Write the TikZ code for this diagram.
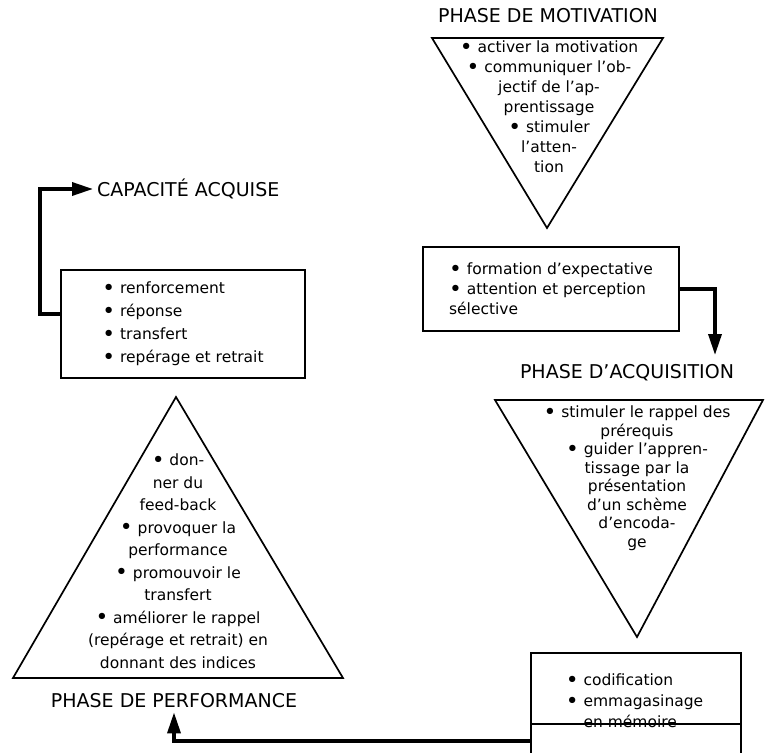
\documentclass[tikz,border=0pt]{standalone}
\usepackage{graphicx}
\usepackage{fontspec}
\setmainfont{DejaVu Sans}
\usetikzlibrary{arrows.meta}
\newcommand{\puce}{\raisebox{-0.12em}{\scalebox{1.4}{\textbullet}}~}

\begin{document}
\begin{tikzpicture}[x=1pt,y=-1pt,
    line width=1.7pt, line join=miter,
    phase/.style={font=\fontsize{19}{20}\selectfont},
    corps/.style={font=\fontsize{15.5}{20}\selectfont, align=center, inner sep=0pt},
    cadre/.style={draw, align=left, font=\fontsize{15.5}{20}\selectfont},
    fleche/.style={line width=3.4pt, -{Triangle[length=21pt,width=13pt]}}]
    \useasboundingbox (0,0) rectangle (765,752);

    \node[phase] (motT) at (548,16) {PHASE DE MOTIVATION};
    \draw (432,38) -- (663,38) -- (547,228) -- cycle;
    \node[corps] (motTxt) at (549,107) {\puce activer la motivation\\ \puce communiquer l'ob-\\ jectif de l'ap-\\ prentissage\\ \puce stimuler\\ l'atten-\\ tion};

    \node[cadre, minimum width=256, minimum height=84] (expBox) at (551,289) {\puce formation d'expectative\\ \puce attention et perception\\ sélective};

    \node[phase] (acqT) at (627,373) {PHASE D'ACQUISITION};
    \coordinate (acqIn) at (715,355);
    \draw[fleche] (expBox.east) -| (acqIn);

    \draw (495,400) -- (763,400) -- (637,637) -- cycle;
    \node[corps, font=\fontsize{15.5}{18.5}\selectfont] (acqTxt) at (637,478) {\puce stimuler le rappel des\\ prérequis\\ \puce guider l'appren-\\ tissage par la\\ présentation\\ d'un schème\\ d'encoda-\\ ge};

    \node[minimum width=208, minimum height=98, inner sep=0pt] (codBox) at (636,703) {};
    \draw (codBox.south west) -- (codBox.north west) -- (codBox.north east) -- (codBox.south east);
    \coordinate (codCut) at ([yshift=29pt]codBox.south west);
    \coordinate (codOut) at ([yshift=12pt]codBox.south west);
    \draw (codCut) -- (codCut -| codBox.east);
    \node[corps, align=left, font=\fontsize{15.5}{21}\selectfont, anchor=west] (codTxt) at (565,701) {\puce codification\\ \puce emmagasinage\\ \hphantom{\puce}en mémoire};

    \draw (176,397) -- (343,678) -- (13,678) -- cycle;
    \node[corps, font=\fontsize{15.5}{22.5}\selectfont] (perfTxt) at (178,561) {\puce don-\\ ner du\\ feed-back\\ \puce provoquer la\\ performance\\ \puce promouvoir le\\ transfert\\ \puce améliorer le rappel\\ (repérage et retrait) en\\ donnant des indices};
    \node[phase] (perfT) at (174,701) {PHASE DE PERFORMANCE};
    \draw[fleche] (codOut) -| (perfT.south);

    \node[cadre, minimum width=244, minimum height=108, font=\fontsize{15.5}{23}\selectfont] (renBox) at (183,324) {\puce renforcement\\ \puce réponse\\ \puce transfert\\ \puce repérage et retrait};
    \node[phase, anchor=west] (capT) at (93,189) {CAPACITÉ ACQUISE};
    \draw[fleche] ([yshift=10pt]renBox.west) -- ++(-20,0) |- (capT.west);
\end{tikzpicture}
\end{document}
